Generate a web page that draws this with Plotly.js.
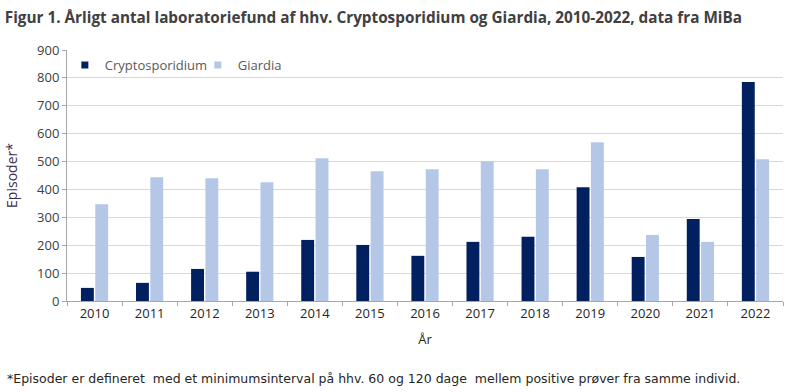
<!DOCTYPE html>
<html>
<head>
<meta charset="utf-8">
<script src="https://cdn.plot.ly/plotly-3.0.1.min.js"></script>
<style>html,body{margin:0;padding:0;background:#fff;}#chart{width:800px;height:392px;}</style>
</head>
<body>
<div id="chart"></div>
<script>
const years = ['2010','2011','2012','2013','2014','2015','2016','2017','2018','2019','2020','2021','2022'];
const cryptosporidium = [47, 65, 115, 105, 219, 201, 162, 212, 230, 408, 158, 294, 785];
const giardia = [347, 444, 440, 426, 512, 465, 472, 501, 472, 569, 237, 212, 508];
const yTicks = [0,100,200,300,400,500,600,700,800,900];

const FONT = "'Open Sans', 'DejaVu Sans', sans-serif";
const C1 = '#002060', C2 = '#b4c7e7';

const traces = [
  {type:'bar', x: years, y: cryptosporidium, name:'Cryptosporidium', marker:{color:C1}, showlegend:false, hoverinfo:'x+y'},
  {type:'bar', x: years, y: giardia, name:'Giardia', marker:{color:C2}, showlegend:false, hoverinfo:'x+y'},
  {type:'scatter', mode:'markers', x:[null], y:[null], name:'Cryptosporidium', marker:{symbol:'square', size:7, color:C1}, showlegend:true},
  {type:'scatter', mode:'markers', x:[null], y:[null], name:'Giardia', marker:{symbol:'square', size:7, color:C2}, showlegend:true}
];

const layout = {
  width: 800, height: 392,
  margin: {l:67, r:17, t:50, b:91},
  paper_bgcolor:'#fff', plot_bgcolor:'#fff',
  font: {family: FONT, size: 13, color:'#404040'},
  title: {text:'<b>Figur 1. Årligt antal laboratoriefund af hhv. Cryptosporidium og Giardia, 2010-2022, data fra MiBa</b>',
          font:{family:FONT, size:15.3, color:'#404040'}, x:0.006, xref:'container', xanchor:'left', y:1-18/392, yref:'container', yanchor:'middle'},
  barmode:'group', bargap:0.48, bargroupgap:0.1,
  xaxis: {type:'category', tickson:'boundaries', ticks:'outside', ticklen:4, tickcolor:'#a6a6a6',
          showline:true, linecolor:'#a6a6a6', linewidth:1, showgrid:false, zeroline:false,
          tickfont:{size:13, color:'#262626'},
          title:{text:'År', font:{size:13, color:'#262626'}, standoff:14}},
  yaxis: {range:[0,900], tickvals: yTicks, ticks:'outside', ticklen:4, tickcolor:'#a6a6a6',
          showline:true, linecolor:'#a6a6a6', linewidth:1, showgrid:true, gridcolor:'#d9d9d9', zeroline:false,
          tickfont:{size:13, color:'#404040'},
          title:{text:'Episoder*', font:{size:14, color:'#403152'}, standoff:16}},
  legend: {orientation:'h', x:-0.003, xanchor:'left', y:1.0, yanchor:'top', bgcolor:'rgba(0,0,0,0)',
           font:{size:13, color:'#595959'}, entrywidth:88},
  annotations: [
    {text:'*Episoder er defineret  med et minimumsinterval på hhv. 60 og 120 dage  mellem positive prøver fra samme individ.',
     xref:'paper', yref:'paper', x:(5-67)/716, y:(301-378)/251, xanchor:'left', yanchor:'middle', showarrow:false,
     font:{family:"'DejaVu Sans', sans-serif", size:12.5, color:'#262626'}}
  ]
};

Plotly.newPlot('chart', traces, layout, {displayModeBar:false, staticPlot:true});
</script>
</body>
</html>
